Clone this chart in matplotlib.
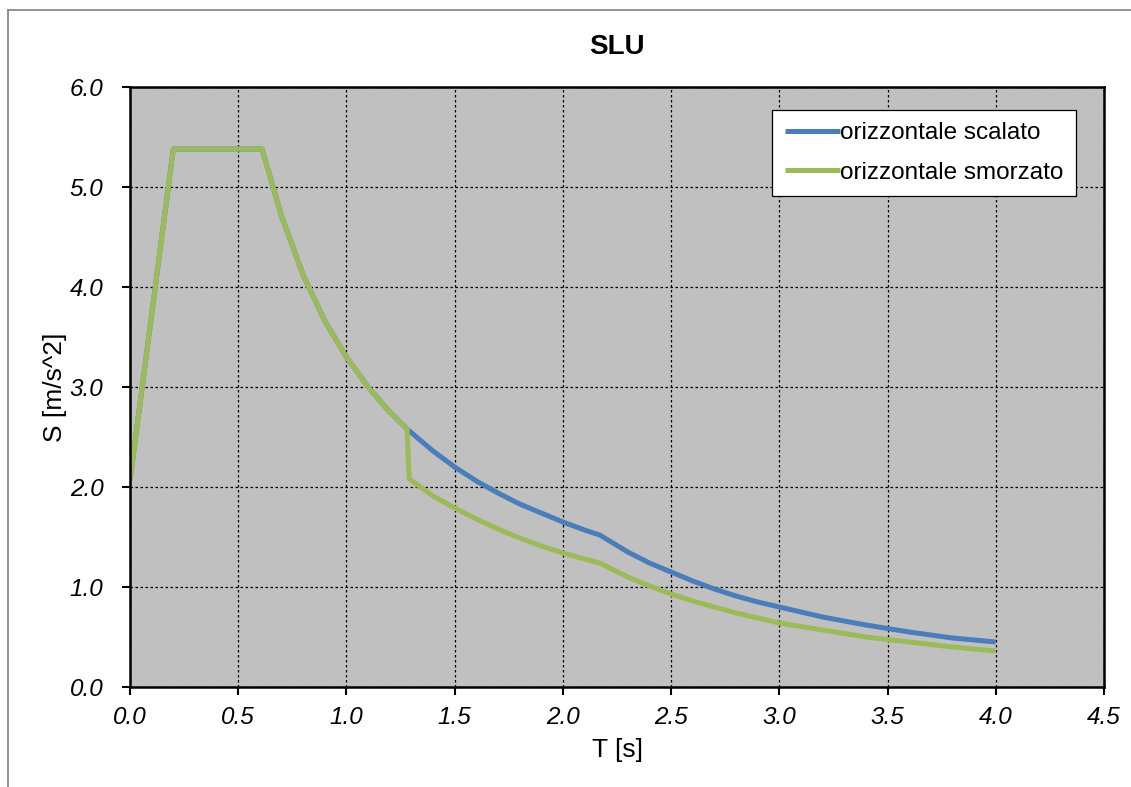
import matplotlib
matplotlib.use("Agg")
import matplotlib.pyplot as plt
from matplotlib.lines import Line2D

plt.rcParams['font.family'] = ['Liberation Sans', 'DejaVu Sans']

# periodo T [s] e spettro S [m/s^2]
t_scalato = [0.00, 0.20, 0.61, 0.70, 0.80, 0.90, 1.00, 1.10, 1.20, 1.28,
             1.40, 1.50, 1.60, 1.70, 1.80, 1.90, 2.00, 2.10, 2.17,
             2.30, 2.40, 2.50, 2.60, 2.70, 2.80, 2.90, 3.00,
             3.20, 3.40, 3.60, 3.80, 4.00]
s_scalato = [2.07, 5.38, 5.38, 4.71, 4.12, 3.66, 3.30, 3.00, 2.75, 2.58,
             2.36, 2.20, 2.06, 1.94, 1.83, 1.74, 1.65, 1.57, 1.52,
             1.35, 1.24, 1.15, 1.06, 0.98, 0.91, 0.85, 0.80,
             0.70, 0.62, 0.55, 0.49, 0.45]

t_smorzato = [0.00, 0.20, 0.61, 0.70, 0.80, 0.90, 1.00, 1.10, 1.20, 1.28,
              1.29, 1.40, 1.50, 1.60, 1.70, 1.80, 1.90, 2.00, 2.10, 2.17,
              2.30, 2.40, 2.50, 2.60, 2.70, 2.80, 2.90, 3.00,
              3.20, 3.40, 3.60, 3.80, 4.00]
s_smorzato = [2.07, 5.38, 5.38, 4.71, 4.12, 3.66, 3.30, 3.00, 2.75, 2.58,
              2.08, 1.91, 1.79, 1.68, 1.58, 1.49, 1.41, 1.34, 1.28, 1.24,
              1.10, 1.01, 0.93, 0.86, 0.80, 0.74, 0.69, 0.64,
              0.57, 0.50, 0.45, 0.40, 0.36]

x_ticks = [0.0, 0.5, 1.0, 1.5, 2.0, 2.5, 3.0, 3.5, 4.0, 4.5]
y_ticks = [0.0, 1.0, 2.0, 3.0, 4.0, 5.0, 6.0]

W, H = 1131, 787
fig = plt.figure(figsize=(W / 100, H / 100), dpi=100)
ax = fig.add_axes([130 / W, 1 - 687 / H, 974 / W, 600 / H])

ax.set_facecolor('#c0c0c0')
ax.plot(t_scalato, s_scalato, color='#4a7ebb', lw=3.6, label='orizzontale scalato',
        solid_capstyle='butt')
ax.plot(t_smorzato, s_smorzato, color='#9bbb59', lw=3.6, label='orizzontale smorzato',
        solid_capstyle='butt')

ax.set_xlim(0, 4.5)
ax.set_ylim(0, 6)
ax.set_xticks(x_ticks)
ax.set_yticks(y_ticks)
ax.set_xticklabels(['%.1f' % v for v in x_ticks], fontstyle='italic', fontsize=17.5)
ax.set_yticklabels(['%.1f' % v for v in y_ticks], fontstyle='italic', fontsize=17.5)
ax.tick_params(direction='out', length=6, width=1.5, color='black')
ax.tick_params(axis='x', pad=8)
ax.tick_params(axis='y', pad=13)
ax.grid(True, color='black', linestyle=(0, (2, 2)), linewidth=0.9)
ax.set_axisbelow(True)
for sp in ax.spines.values():
    sp.set_linewidth(1.8)
    sp.set_color('black')

ax.set_title('SLU', fontsize=20, fontweight='bold', pad=24)
ax.set_xlabel('T [s]', fontsize=19, labelpad=6)
ax.set_ylabel('S [m/s^2]', fontsize=19, labelpad=2)

leg = ax.legend(loc='upper right', bbox_to_anchor=(1076 / 974 - 130 / 974, 1 - 23 / 600),
                fontsize=17.5, frameon=True, fancybox=False, handlelength=2.3,
                handletextpad=0.0, borderpad=0.5, labelspacing=0.72,
                borderaxespad=0)
leg.get_frame().set_edgecolor('black')
leg.get_frame().set_linewidth(0.9)
leg.get_frame().set_facecolor('white')
leg.get_frame().set_alpha(1)

# bordo dell'area grafico (solo sopra e a sinistra visibili)
fig.add_artist(Line2D([8 / W, 1], [1 - 10 / H, 1 - 10 / H], color='#808080', lw=1.2))
fig.add_artist(Line2D([8 / W, 8 / W], [0, 1 - 10 / H], color='#808080', lw=1.2))

fig.savefig('out.png', dpi=100)
